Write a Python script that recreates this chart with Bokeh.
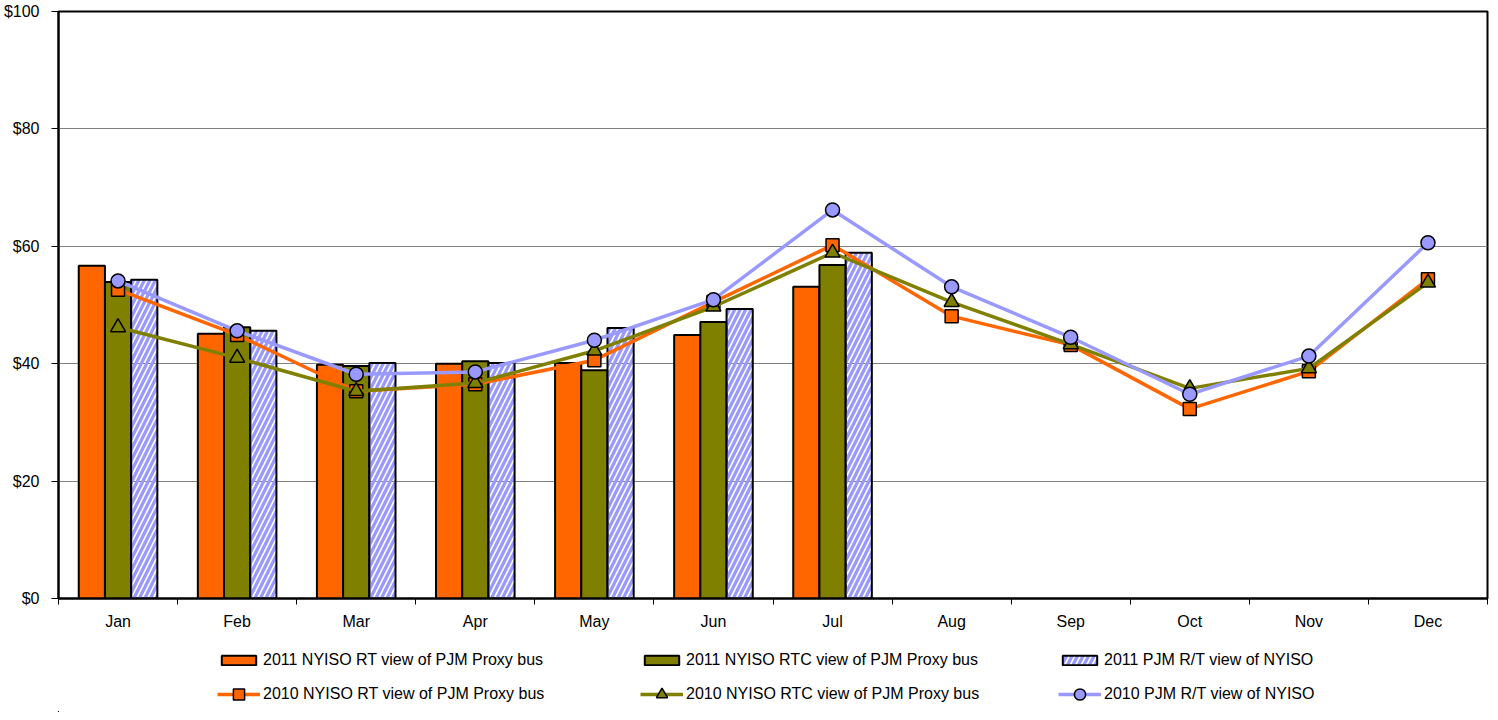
from bokeh.plotting import figure
from bokeh.layouts import column
from bokeh.models import (Range1d, FixedTicker, NumeralTickFormatter, Legend, LegendItem)
from bokeh.embed import file_html
from bokeh.resources import INLINE

months = ["Jan", "Feb", "Mar", "Apr", "May", "Jun", "Jul", "Aug", "Sep", "Oct", "Nov", "Dec"]

# 2011 bars (Jan-Jul)
rt_2011 = [56.7, 45.1, 39.8, 40.0, 40.1, 44.9, 53.1]
rtc_2011 = [53.9, 46.2, 39.6, 40.4, 38.9, 47.1, 56.8]
pjm_2011 = [54.3, 45.6, 40.1, 40.1, 46.1, 49.3, 58.9]

# 2010 lines (Jan-Dec)
rt_2010 = [52.6, 44.9, 35.3, 36.5, 40.6, 50.5, 60.2, 48.1, 43.2, 32.3, 38.7, 54.4]
rtc_2010 = [46.2, 41.0, 35.3, 36.7, 42.2, 49.7, 58.9, 50.5, 43.3, 35.8, 39.2, 53.8]
pjm_2010 = [54.1, 45.6, 38.2, 38.6, 44.0, 50.9, 66.2, 53.1, 44.5, 34.8, 41.3, 60.6]

labels_bar = ["2011 NYISO RT view of PJM Proxy bus", "2011 NYISO RTC view of PJM Proxy bus",
              "2011 PJM R/T view of NYISO"]
labels_line = ["2010 NYISO RT view of PJM Proxy bus", "2010 NYISO RTC view of PJM Proxy bus",
               "2010 PJM R/T view of NYISO"]

ORANGE = "#FF6600"
OLIVE = "#808000"
BLUE = "#9999FF"
FONT = "Liberation Sans"

bar_styles = [dict(fill_color=ORANGE, line_color="black", line_width=2),
              dict(fill_color=OLIVE, line_color="black", line_width=2),
              dict(fill_color=None, line_color="black", line_width=2, hatch_pattern="/",
                   hatch_color=BLUE, hatch_scale=11, hatch_weight=3.3)]
line_styles = [dict(line_color=ORANGE, line_width=3.5),
               dict(line_color=OLIVE, line_width=3.5),
               dict(line_color=BLUE, line_width=3.5)]
marker_styles = [dict(marker="square", size=13, fill_color=ORANGE, line_color="black", line_width=1.5),
                 dict(marker="triangle", size=15, fill_color=OLIVE, line_color="black", line_width=1.5),
                 dict(marker="circle", size=14, fill_color=BLUE, line_color="black", line_width=1.5)]

W = 1497
p = figure(width=W, height=640, output_backend="svg", toolbar_location=None,
           x_range=Range1d(0, 12), y_range=Range1d(0, 100),
           min_border_left=57, min_border_right=10, min_border_top=11, min_border_bottom=42)

p.outline_line_color = "black"
p.outline_line_width = 2
p.xgrid.grid_line_color = None
p.ygrid.grid_line_color = "#808080"
p.ygrid.grid_line_width = 1
p.ygrid.ticker = FixedTicker(ticks=[20, 40, 60, 80])

# y axis
p.yaxis.ticker = FixedTicker(ticks=[0, 20, 40, 60, 80, 100])
p.yaxis.formatter = NumeralTickFormatter(format="$0")
p.yaxis.axis_line_color = "black"
p.yaxis.axis_line_width = 2
p.yaxis.major_tick_out = 7
p.yaxis.major_tick_in = 0
p.yaxis.minor_tick_line_color = None
p.yaxis.major_label_standoff = 12
p.yaxis.major_label_text_font = FONT
p.yaxis.major_label_text_font_size = "16px"
p.yaxis.major_label_text_color = "black"

# x axis: labels at centers, ticks at boundaries
centers = [i + 0.5 for i in range(len(months))]
bounds = list(range(len(months) + 1))
p.xaxis.ticker = FixedTicker(ticks=centers, minor_ticks=bounds)
p.xaxis.major_label_overrides = {c: m for c, m in zip(centers, months)}
p.xaxis.axis_line_color = "black"
p.xaxis.axis_line_width = 2
p.xaxis.major_tick_line_color = None
p.xaxis.major_tick_out = 0
p.xaxis.major_tick_in = 0
p.xaxis.minor_tick_out = 6
p.xaxis.minor_tick_in = 0
p.xaxis.minor_tick_line_color = "black"
p.xaxis.minor_tick_line_width = 1
p.xaxis.major_label_standoff = 8
p.xaxis.major_label_text_font = FONT
p.xaxis.major_label_text_font_size = "16px"
p.xaxis.major_label_text_color = "black"

bw = 0.22
n = len(rt_2011)
xb = [i + 0.5 for i in range(n)]
bar_data = [[x - bw for x in xb], xb, [x + bw for x in xb]]
bar_vals = [rt_2011, rtc_2011, pjm_2011]
for bx, bv, bs in zip(bar_data, bar_vals, bar_styles):
    p.vbar(x=bx, top=bv, width=bw, **bs)

line_vals = [rt_2010, rtc_2010, pjm_2010]
for vals, ls, ms in zip(line_vals, line_styles, marker_styles):
    p.line(centers, vals, **ls)
    p.scatter(centers, vals, **ms)

# legend strip below the chart (its proxy glyphs fall outside its ranges)
lf = figure(width=W, height=72, output_backend="svg", toolbar_location=None,
            x_range=Range1d(1000, 1001), y_range=Range1d(1000, 1001),
            x_axis_location=None, y_axis_location=None,
            min_border_left=0, min_border_right=0, min_border_top=0, min_border_bottom=0)
lf.grid.visible = False
lf.outline_line_color = None

xs = [159, 582, 1000]
common = dict(padding=0, margin=0, spacing=0, glyph_width=43, label_standoff=3,
              label_text_font=FONT, label_text_font_size="16px", label_text_color="black",
              border_line_color=None, background_fill_alpha=0)
for k in range(3):
    br = lf.vbar(x=bar_data[k], top=bar_vals[k], width=bw, **bar_styles[k])
    lr = lf.line(centers, line_vals[k], **line_styles[k])
    mr = lf.scatter(centers, line_vals[k], **marker_styles[k])
    leg_b = Legend(items=[LegendItem(label=labels_bar[k], renderers=[br])],
                   location=(xs[k], 42), glyph_height=12, label_height=20, **common)
    leg_l = Legend(items=[LegendItem(label=labels_line[k], renderers=[lr, mr])],
                   location=(xs[k], 4), glyph_height=28, label_height=28, **common)
    lf.add_layout(leg_b, "center")
    lf.add_layout(leg_l, "center")

open("out.html", "w").write(file_html(column(p, lf, spacing=0), INLINE))
